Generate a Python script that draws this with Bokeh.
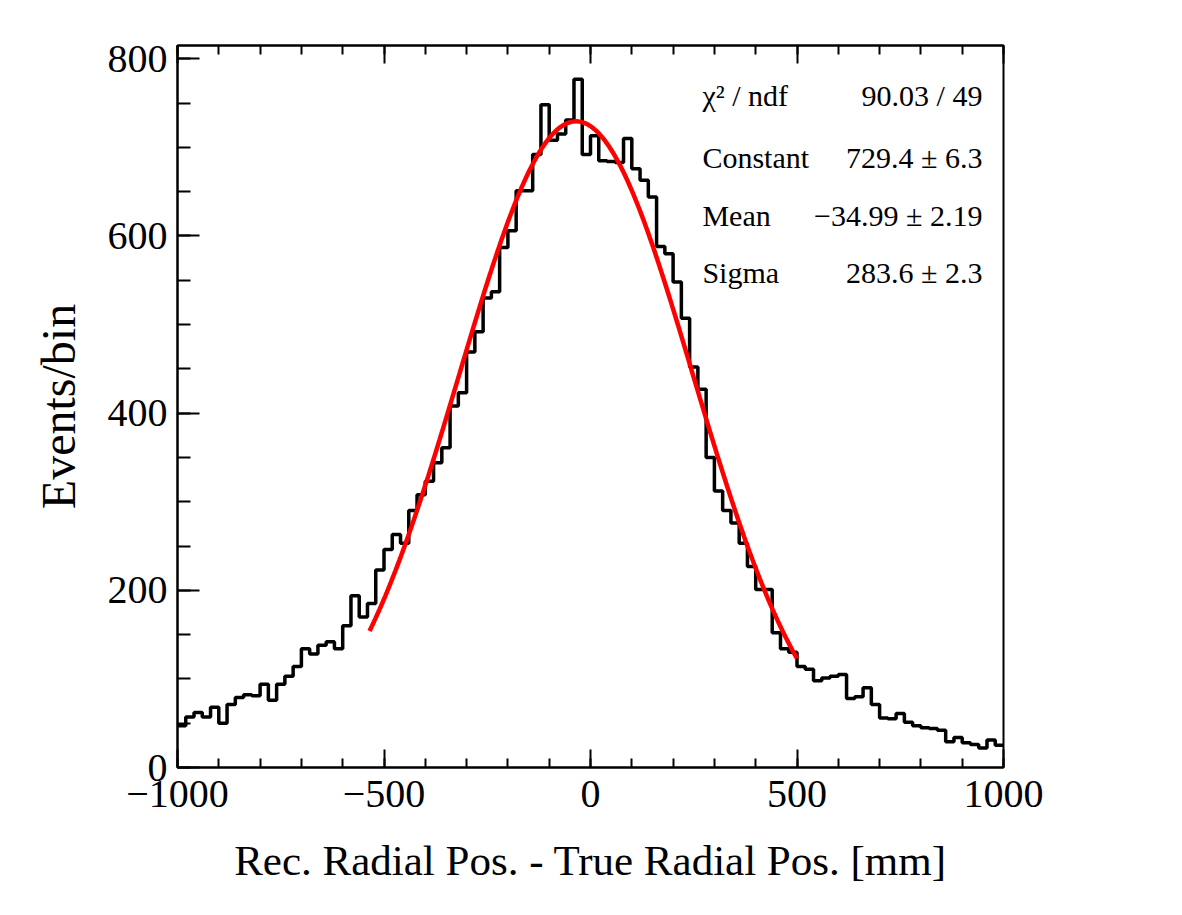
import numpy as np
from bokeh.plotting import figure
from bokeh.models import Range1d, LinearAxis, SingleIntervalTicker, Label, CustomJSTickFormatter
from bokeh.embed import file_html
from bokeh.resources import INLINE

# ---------------- data ----------------
bin_low = -1000
bin_width = 20
counts = [47, 57, 62, 57, 68, 50, 71, 79, 82, 81,
          94, 76, 94, 103, 114, 134, 128, 138, 142, 134,
          160, 194, 170, 185, 223, 246, 263, 253, 290, 308,
          323, 344, 361, 408, 423, 469, 492, 530, 537, 587,
          606, 651, 651, 692, 748, 708, 715, 731, 777, 692,
          713, 685, 684, 683, 710, 676, 663, 644, 588, 580,
          548, 507, 452, 427, 350, 312, 290, 276, 253, 227,
          201, 201, 152, 134, 130, 114, 111, 98, 101, 103,
          105, 78, 80, 90, 71, 56, 55, 61, 51, 47,
          45, 44, 42, 29, 34, 28, 26, 22, 31, 25]

fit_constant = 729.4
fit_mean = -34.99
fit_sigma = 283.6
fit_range = [-535, 500]

stats_names = ["\u03c7\u00b2 / ndf", "Constant", "Mean", "Sigma"]
stats_values = ["90.03 / 49", "729.4 \u00b1 6.3", "\u221234.99 \u00b1 2.19", "283.6 \u00b1 2.3"]
stats_baselines = [759, 689, 623, 559]

x_label = "Rec. Radial Pos. - True Radial Pos. [mm]"
y_label = "Events/bin"

FONT = "Liberation Serif"

# ---------------- figure ----------------
p = figure(width=1182, height=915, output_backend="svg", toolbar_location=None,
           x_range=Range1d(-1000, 1000), y_range=Range1d(0, 815),
           min_border_left=177, min_border_right=179, min_border_top=45, min_border_bottom=148,
           x_axis_label=x_label, y_axis_label=y_label)
p.grid.visible = False
p.outline_line_color = "black"
p.outline_line_width = 2
p.background_fill_color = "white"
p.border_fill_color = "white"

# histogram as steps
n = len(counts)
edges = [bin_low + i * bin_width for i in range(n + 1)]
step_y = counts + [counts[-1]]
p.step(x=edges, y=step_y, mode="after", line_color="black", line_width=3.5)

# gaussian fit curve from fit parameters
xf = np.linspace(fit_range[0], fit_range[1], 300)
yf = fit_constant * np.exp(-0.5 * ((xf - fit_mean) / fit_sigma) ** 2)
p.line(xf, yf, line_color="red", line_width=4.5)

# axes styling
minus_fmt = CustomJSTickFormatter(code="return tick < 0 ? '\u2212' + Math.abs(tick) : '' + tick;")
for ax, interval, nminor, tin, tmin in [(p.xaxis[0], 500, 5, 18, 9), (p.yaxis[0], 200, 4, 22, 13)]:
    ax.ticker = SingleIntervalTicker(interval=interval, num_minor_ticks=nminor)
    ax.formatter = minus_fmt
    ax.major_tick_in = tin
    ax.major_tick_out = 0
    ax.minor_tick_in = tmin
    ax.minor_tick_out = 0
    ax.axis_line_width = 2
    ax.major_tick_line_width = 2
    ax.minor_tick_line_width = 2
    ax.major_label_text_font = FONT
    ax.major_label_text_font_size = "40px"
    ax.major_label_text_color = "black"
    ax.axis_label_text_font = FONT
    ax.axis_label_text_font_style = "normal"
    ax.axis_label_text_color = "black"

p.xaxis[0].axis_label_text_font_size = "43px"
p.yaxis[0].axis_label_text_font_size = "48px"
p.xaxis[0].major_label_standoff = 13
p.xaxis[0].axis_label_standoff = 27
p.yaxis[0].major_label_standoff = 10
p.yaxis[0].axis_label_standoff = 20

top = LinearAxis(ticker=SingleIntervalTicker(interval=500, num_minor_ticks=5),
                 formatter=CustomJSTickFormatter(code="return '';"),
                 major_tick_in=18, major_tick_out=0, minor_tick_in=9, minor_tick_out=0,
                 major_tick_line_width=2, minor_tick_line_width=2, axis_line_width=2,
                 major_label_standoff=0, major_label_text_font_size="1px")
p.add_layout(top, "above")

# stats box text
for name, val, yb in zip(stats_names, stats_values, stats_baselines):
    p.add_layout(Label(x=271, y=yb, text=name, text_font=FONT, text_font_size="30px",
                       text_color="black", text_align="left", text_baseline="alphabetic"))
    p.add_layout(Label(x=949, y=yb, text=val, text_font=FONT, text_font_size="30px",
                       text_color="black", text_align="right", text_baseline="alphabetic"))

open("out.html", "w").write(file_html(p, INLINE))
